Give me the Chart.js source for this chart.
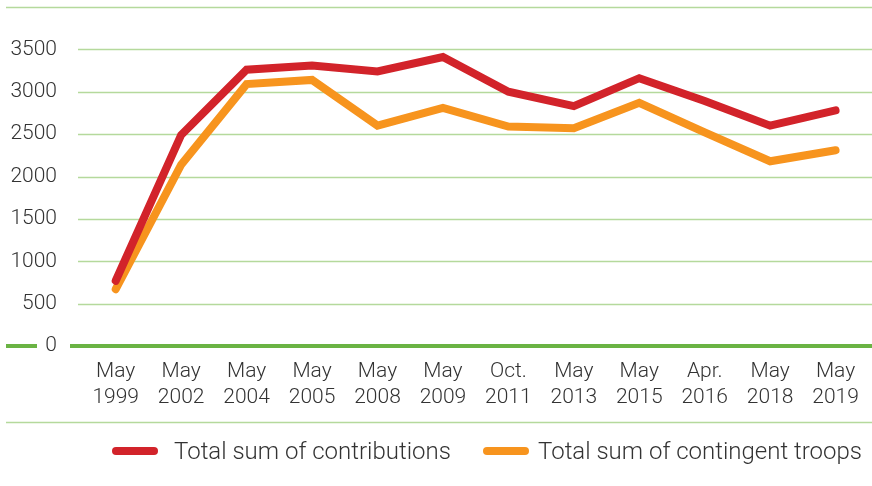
<!DOCTYPE html>
<html>
<head>
<meta charset="utf-8">
<script src="https://cdn.jsdelivr.net/npm/chart.js@4"></script>
<style>
  html, body { margin: 0; padding: 0; background: #fff; }
  #wrap { width: 872px; height: 486px; position: relative; overflow: hidden; }
  #legenda { position: absolute; left: 0; top: 436px; width: 872px; height: 30px; }
  .item { position: absolute; top: 0; height: 30px; display: flex; align-items: center;
          font-family: Roboto, sans-serif; font-weight: 300; font-size: 24px; color: #333; white-space: nowrap; }
  .traco { display: inline-block; width: 46px; height: 7.5px; border-radius: 4px; }
</style>
</head>
<body>
<div id="wrap">
  <canvas id="grafico" width="872" height="486"></canvas>
  <div id="legenda"></div>
</div>
<script>
const categorias = [
    ['May', '1999'], ['May', '2002'], ['May', '2004'], ['May', '2005'],
    ['May', '2008'], ['May', '2009'], ['Oct.', '2011'], ['May', '2013'],
    ['May', '2015'], ['Apr.', '2016'], ['May', '2018'], ['May', '2019']
];
const contribuicoes = [770, 2490, 3260, 3310, 3240, 3410, 3000, 2830, 3160, 2890, 2600, 2780];
const tropas = [670, 2140, 3090, 3140, 2600, 2810, 2590, 2570, 2870, 2520, 2180, 2310];
const rotulosY = [0, 500, 1000, 1500, 2000, 2500, 3000, 3500];

const verdeClaro = '#b5d99c';
const verdeForte = '#6ab344';

// linhas de grade desenhadas à mão (começam antes da área do gráfico)
const gradePlugin = {
    id: 'grade',
    beforeDatasetsDraw(chart) {
        const ctx = chart.ctx;
        const y = chart.scales.y;
        ctx.save();
        ctx.strokeStyle = verdeClaro;
        ctx.lineWidth = 1.5;
        rotulosY.forEach(v => {
            if (v === 0) return;
            const py = Math.round(y.getPixelForValue(v)) + 0.5;
            ctx.beginPath();
            ctx.moveTo(78, py);
            ctx.lineTo(872, py);
            ctx.stroke();
        });
        const topo = Math.round(y.getPixelForValue(4000)) + 0.5;
        ctx.beginPath();
        ctx.moveTo(6, topo);
        ctx.lineTo(872, topo);
        ctx.stroke();
        const base = chart.scales.x.top + 76.5;
        ctx.beginPath();
        ctx.moveTo(6, base);
        ctx.lineTo(872, base);
        ctx.stroke();
        // linha do zero
        const zero = y.getPixelForValue(0);
        ctx.strokeStyle = verdeForte;
        ctx.lineWidth = 4;
        ctx.beginPath();
        ctx.moveTo(6, zero);
        ctx.lineTo(37, zero);
        ctx.moveTo(70, zero);
        ctx.lineTo(872, zero);
        ctx.stroke();
        ctx.restore();
    }
};

const ctx = document.getElementById('grafico').getContext('2d');
const grafico = new Chart(ctx, {
    type: 'line',
    data: {
        labels: categorias,
        datasets: [{
            label: 'Total sum of contributions',
            data: contribuicoes,
            borderColor: '#d2232a',
            backgroundColor: '#d2232a',
            borderWidth: 8,
            borderCapStyle: 'round',
            borderJoinStyle: 'miter',
            pointRadius: 0,
            tension: 0
        }, {
            label: 'Total sum of contingent troops',
            data: tropas,
            borderColor: '#f7941e',
            backgroundColor: '#f7941e',
            borderWidth: 8,
            borderCapStyle: 'round',
            borderJoinStyle: 'miter',
            pointRadius: 0,
            tension: 0
        }]
    },
    options: {
        responsive: false,
        animation: false,
        layout: { padding: { top: 7, right: 3, bottom: 0, left: 0 } },
        plugins: {
            tooltip: { enabled: false },
            legend: { display: false }
        },
        scales: {
            x: {
                offset: true,
                grid: { display: false, drawTicks: false },
                border: { display: false },
                afterFit(scale) { scale.height = 140; },
                ticks: {
                    color: '#333',
                    padding: 13,
                    maxRotation: 0,
                    autoSkip: false,
                    font: { family: 'Roboto', size: 21, weight: 300, lineHeight: 1.24 }
                }
            },
            y: {
                min: 0,
                max: 4000,
                grid: { display: false, drawTicks: false },
                border: { display: false },
                afterFit(scale) {
                    scale.width = 83;
                    scale.paddingTop = 0;
                    scale.paddingBottom = 0;
                },
                ticks: {
                    stepSize: 500,
                    color: '#333',
                    padding: 26,
                    font: { family: 'Roboto', size: 21, weight: 300 },
                    callback: v => (v === 4000 ? '' : v)
                }
            }
        }
    },
    plugins: [gradePlugin]
});

// legenda em HTML, montada a partir dos datasets
const posicoesLegenda = [{ left: 112, gap: 16 }, { left: 483, gap: 9 }];
grafico.data.datasets.forEach((ds, i) => {
    const item = document.createElement('div');
    item.className = 'item';
    item.style.left = posicoesLegenda[i].left + 'px';
    const traco = document.createElement('span');
    traco.className = 'traco';
    traco.style.background = ds.borderColor;
    traco.style.marginRight = posicoesLegenda[i].gap + 'px';
    const texto = document.createElement('span');
    texto.textContent = ds.label;
    item.appendChild(traco);
    item.appendChild(texto);
    document.getElementById('legenda').appendChild(item);
});
</script>
</body>
</html>
